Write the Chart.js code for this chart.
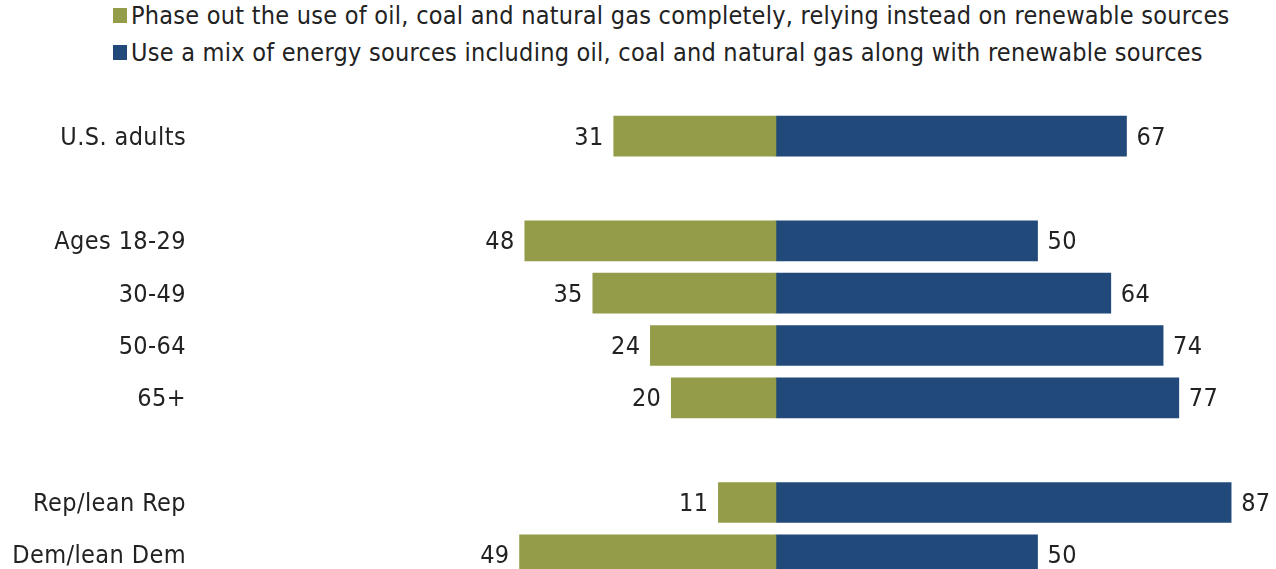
<!DOCTYPE html>
<html>
<head>
<meta charset="utf-8">
<script src="https://cdn.jsdelivr.net/npm/chart.js@4"></script>
<style>
  html, body { margin: 0; padding: 0; background: #fff; width: 1276px; height: 569px; overflow: hidden; }
  body { position: relative; font-family: "Liberation Sans Narrow", "DejaVu Sans Condensed", sans-serif; color: #222; }
  .legend { position: absolute; left: 113px; font-size: 25px; letter-spacing: 0.25px; line-height: 28px; white-space: nowrap; }
  .legend span.box { display: inline-block; width: 14px; height: 15px; margin-right: 4px; vertical-align: 1px; }
  #wrap { position: absolute; left: 0; top: 0; width: 1276px; height: 582px; }
</style>
</head>
<body>
<div class="legend" id="leg1" style="top:2px"></div>
<div class="legend" id="leg2" style="top:39px"></div>
<div id="wrap"><canvas id="chart"></canvas></div>
<script>
const categories = ['U.S. adults', '', 'Ages 18-29', '30-49', '50-64', '65+', '', 'Rep/lean Rep', 'Dem/lean Dem'];
const phaseOut = [31, null, 48, 35, 24, 20, null, 11, 49];
const mixSources = [67, null, 50, 64, 74, 77, null, 87, 50];
const seriesNames = [
    'Phase out the use of oil, coal and natural gas completely, relying instead on renewable sources',
    'Use a mix of energy sources including oil, coal and natural gas along with renewable sources'
];
const colors = ['#949c4a', '#214a7b'];
const FONT = '"Liberation Sans Narrow", "DejaVu Sans Condensed", sans-serif';

['leg1', 'leg2'].forEach(function(id, i) {
    const el = document.getElementById(id);
    el.innerHTML = '<span class="box" style="background:' + colors[i] + '"></span>' + seriesNames[i];
});

const labelPlugin = {
    id: 'labels',
    afterDatasetsDraw(chart) {
        const ctx = chart.ctx;
        const y = chart.scales.y;
        ctx.save();
        ctx.font = '25px ' + FONT;
        ctx.letterSpacing = '0.4px';
        ctx.fillStyle = '#222';
        ctx.textBaseline = 'middle';
        categories.forEach(function(c, i) {
            if (!c) return;
            const py = y.getPixelForValue(i);
            ctx.textAlign = 'right';
            ctx.fillText(c, 186, py + 2);
        });
        chart.data.datasets.forEach(function(ds, di) {
            const meta = chart.getDatasetMeta(di);
            meta.data.forEach(function(bar, i) {
                const v = di === 0 ? phaseOut[i] : mixSources[i];
                if (v == null) return;
                if (di === 0) {
                    ctx.textAlign = 'right';
                    ctx.fillText(String(v), bar.x - 10, bar.y + 2);
                } else {
                    ctx.textAlign = 'left';
                    ctx.fillText(String(v), bar.x + 10, bar.y + 2);
                }
            });
        });
        ctx.restore();
    }
};

new Chart(document.getElementById('chart').getContext('2d'), {
    type: 'bar',
    data: {
        labels: categories,
        datasets: [{
            label: seriesNames[0],
            data: phaseOut.map(v => v == null ? null : -v),
            backgroundColor: colors[0],
            barThickness: 40
        }, {
            label: seriesNames[1],
            data: mixSources,
            backgroundColor: colors[1],
            barThickness: 40
        }]
    },
    options: {
        indexAxis: 'y',
        responsive: true,
        maintainAspectRatio: false,
        animation: false,
        layout: { padding: { left: 462, right: 3, top: 110, bottom: 1 } },
        plugins: { legend: { display: false }, tooltip: { enabled: false } },
        scales: {
            x: { stacked: true, min: -60, max: 95, display: false },
            y: { stacked: true, display: false }
        }
    },
    plugins: [labelPlugin]
});
</script>
</body>
</html>
